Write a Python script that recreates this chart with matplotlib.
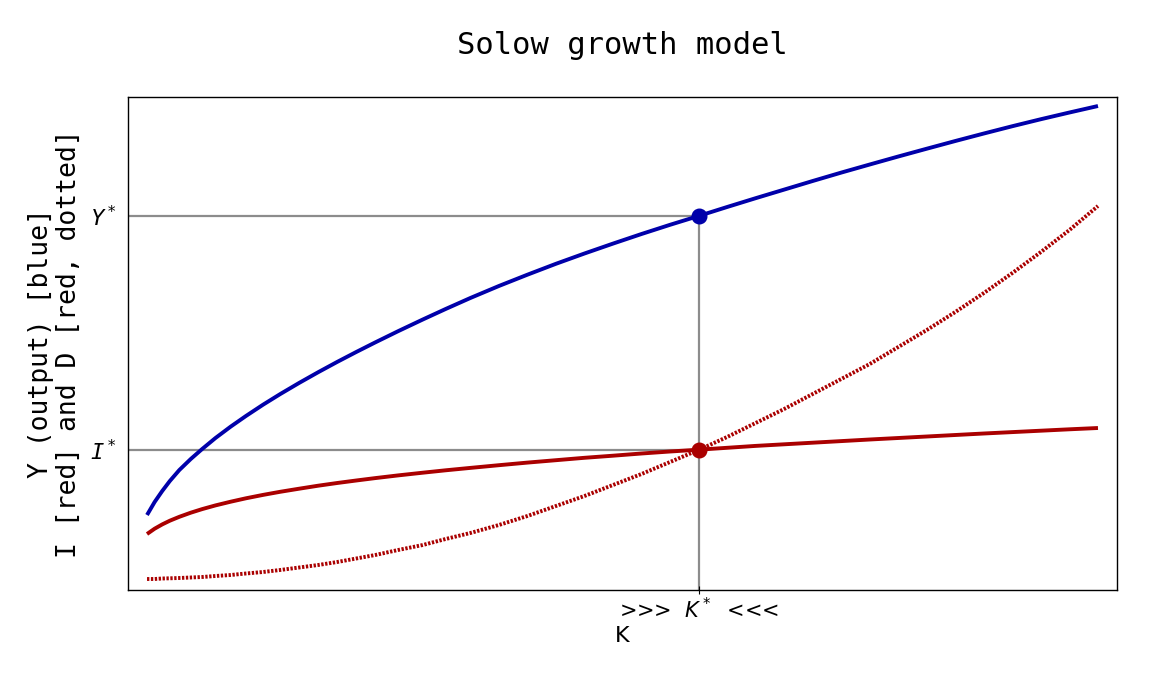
import matplotlib
matplotlib.use("Agg")
import matplotlib.pyplot as plt

# ---- data ----
K = [1, 1.4, 1.8, 2.2, 2.7, 3.3, 3.9, 4.6, 5.4, 6.2, 7.1, 8, 9, 10, 11, 12,
     13, 14.2, 15.5, 16.7, 18, 19.5, 21, 22.5, 24, 25.5, 27, 28.5, 30, 31.5,
     33, 34.5, 36, 37.5, 39, 40.5, 42, 43.5, 45, 46.5, 48, 49.5, 51]
Y = [0.75, 0.88, 0.99, 1.09, 1.20, 1.31, 1.41, 1.52, 1.634, 1.740, 1.853,
     1.959, 2.071, 2.178, 2.281, 2.380, 2.476, 2.588, 2.705, 2.81, 2.92,
     3.04, 3.153, 3.262, 3.365, 3.464, 3.56, 3.652, 3.74, 3.83, 3.918,
     4.004, 4.09, 4.174, 4.255, 4.335, 4.413, 4.49, 4.565, 4.638, 4.708,
     4.775, 4.84]
I = [0.56, 0.613, 0.656, 0.693, 0.732, 0.773, 0.809, 0.846, 0.883, 0.917,
     0.951, 0.982, 1.013, 1.043, 1.070, 1.095, 1.119, 1.146, 1.173, 1.197,
     1.221, 1.248, 1.274, 1.298, 1.322, 1.343, 1.365, 1.385, 1.403, 1.422,
     1.441, 1.457, 1.473, 1.489, 1.505, 1.520, 1.535, 1.550, 1.565, 1.579,
     1.593, 1.607, 1.620]
D = [0.11, 0.11, 0.115, 0.117, 0.12, 0.125, 0.13, 0.14, 0.15, 0.165, 0.18,
     0.20, 0.225, 0.25, 0.28, 0.315, 0.35, 0.40, 0.45, 0.51, 0.57, 0.65, 0.74,
     0.84, 0.94, 1.05, 1.16, 1.28, 1.40, 1.53, 1.67, 1.81, 1.96, 2.11, 2.26,
     2.43, 2.60, 2.78, 2.97, 3.17, 3.38, 3.60, 3.84]
K_star = 30
Y_star = 3.74
I_star = 1.40
x_ticklabel = r">>>  $K^*$  <<<"
y_ticklabels = [r"$I^*$", r"$Y^*$"]

plt.rcParams['mathtext.fontset'] = 'custom'
plt.rcParams['mathtext.it'] = 'DejaVu Sans Mono:italic'
plt.rcParams['mathtext.rm'] = 'DejaVu Sans Mono'

fig = plt.figure(figsize=(11.52, 6.79), dpi=100)
ax = fig.add_axes([128/1152, 89/679, (1117-128)/1152, (590-97)/679])

blue = "#0000aa"
red = "#aa0000"
gray = "#8c8c8c"

# guide lines
ax.plot([0, K_star], [Y_star, Y_star], color=gray, lw=1.6, zorder=1)
ax.plot([0, K_star], [I_star, I_star], color=gray, lw=1.6, zorder=1)
ax.plot([K_star, K_star], [0, Y_star], color=gray, lw=1.6, zorder=1)

ax.plot(K, Y, color=blue, lw=2.8, zorder=3, solid_capstyle='butt')
ax.plot(K, I, color=red, lw=2.8, zorder=3, solid_capstyle='butt')
ax.plot(K, D, color=red, lw=2.8, linestyle=(0, (0.6, 0.4)), zorder=3)

ax.plot([K_star], [Y_star], 'o', color=blue, ms=10.5, zorder=4)
ax.plot([K_star], [I_star], 'o', color=red, ms=10.5, zorder=4)

ax.set_xlim(0, 52)
ax.set_ylim(0, 4.93)

ax.set_xticks([K_star])
ax.set_xticklabels([x_ticklabel], fontsize=15)
for t in ax.get_xticklabels():
    t.set_math_fontfamily('dejavusans')
ax.set_yticks([I_star, Y_star])
ax.set_yticklabels(y_ticklabels, fontsize=16)
ax.tick_params(axis='y', length=0, pad=8)
ax.tick_params(axis='x', length=6, direction='inout', pad=2)

for s in ax.spines.values():
    s.set_linewidth(1.0)

ax.set_xlabel("K", fontsize=16, family="DejaVu Sans", labelpad=3)
ax.set_ylabel("Y (output) [blue]\nI [red] and D [red, dotted]",
              fontsize=19, family="DejaVu Sans Mono", labelpad=6,
              linespacing=1.1)
ax.set_title("Solow growth model", fontsize=22, family="DejaVu Sans Mono",
             pad=31)

fig.savefig("out.png", dpi=100)
